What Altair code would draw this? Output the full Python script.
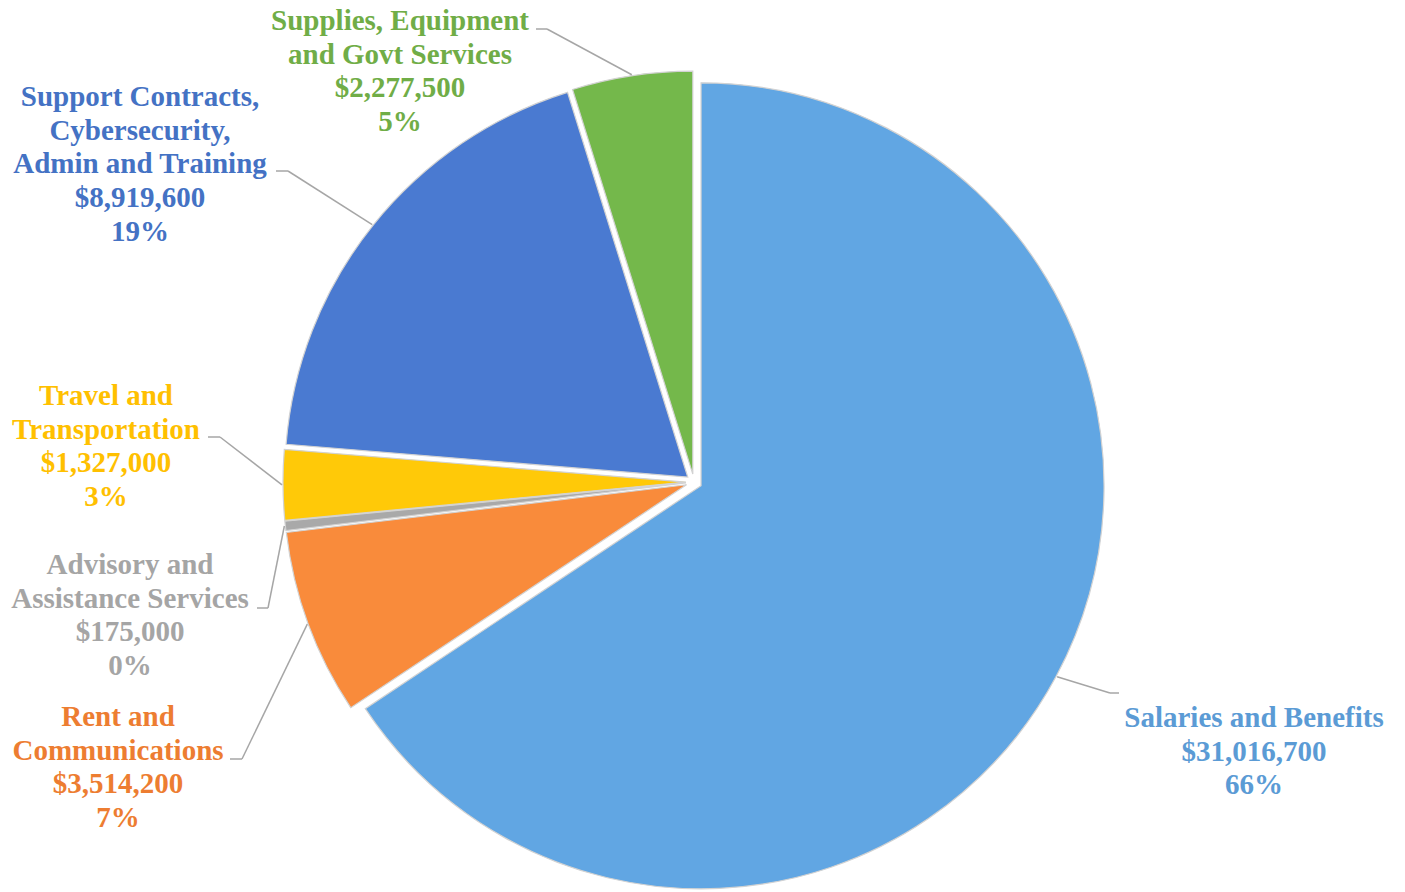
import altair as alt
import pandas as pd

# ---- data ----
categories = [
    "Salaries and Benefits",
    "Rent and Communications",
    "Advisory and Assistance Services",
    "Travel and Transportation",
    "Support Contracts, Cybersecurity, Admin and Training",
    "Supplies, Equipment and Govt Services",
]
label_names = [
    "Salaries and Benefits",
    "Rent and\nCommunications",
    "Advisory and\nAssistance Services",
    "Travel and\nTransportation",
    "Support Contracts,\nCybersecurity,\nAdmin and Training",
    "Supplies, Equipment\nand Govt Services",
]
amounts = [31016700, 3514200, 175000, 1327000, 8919600, 2277500]

# ---- styles ----
slice_colors = ["#61A6E3", "#F98B3B", "#A9A9A9", "#FFC908", "#4A7AD1", "#74B84B"]
text_colors = ["#5B9BD5", "#ED7D31", "#A5A5A5", "#FFC000", "#4472C4", "#70AD47"]

# ---- layout (page pixels) ----
W, H, M = 1389, 884, 8
CX, CY, R, EXPLODE = 694, 482, 403, 8
# label x centre, first-line y centre, leader elbow x, elbow y, leader tail x
label_layout = {
    "Salaries and Benefits": (1254, 718, 1110, 693, 1119),
    "Rent and Communications": (118, 717, 242, 759, 230),
    "Advisory and Assistance Services": (130, 565, 268, 608, 257),
    "Travel and Transportation": (106, 396, 220, 437, 208),
    "Support Contracts, Cybersecurity, Admin and Training": (140, 97, 288, 171, 276),
    "Supplies, Equipment and Govt Services": (400, 21, 547, 29, 536),
}

df = pd.DataFrame({
    "category": categories,
    "lname": label_names,
    "value": amounts,
    "order": list(range(len(categories))),
})
df["lx"] = [label_layout[c][0] for c in categories]
df["ly"] = [label_layout[c][1] for c in categories]
df["ex"] = [label_layout[c][2] for c in categories]
df["ey"] = [label_layout[c][3] for c in categories]
df["hx"] = [label_layout[c][4] for c in categories]

xs = alt.Scale(domain=[M, M + W], range=[0, W], nice=False, zero=False)
ys = alt.Scale(domain=[M, M + H], range=[0, H], nice=False, zero=False)

base = (
    alt.Chart(df)
    .transform_joinaggregate(total="sum(value)")
    .transform_window(cum="sum(value)", sort=[alt.SortField("order")], frame=[None, 0])
    .transform_calculate(pct="datum.value / datum.total")
    .transform_calculate(t1="2 * PI * datum.cum / datum.total")
    .transform_calculate(t0="2 * PI * (datum.cum - datum.value) / datum.total")
    .transform_calculate(mid="(datum.t0 + datum.t1) / 2")
    .transform_calculate(cx=f"{CX} + {EXPLODE} * sin(datum.mid)")
    .transform_calculate(cy=f"{CY} - {EXPLODE} * cos(datum.mid)")
    .transform_calculate(sx=f"datum.cx + {R + 1} * sin(datum.mid)")
    .transform_calculate(sy=f"datum.cy - {R + 1} * cos(datum.mid)")
    .transform_calculate(
        label="datum.lname + '\\n' + format(datum.value, '$,') + '\\n' + format(datum.pct, '.0%')"
    )
)

arcs = base.mark_arc(radius=R, stroke="#D2D2D2", strokeWidth=1.2).encode(
    x=alt.X("cx:Q", scale=xs, axis=None),
    y=alt.Y("cy:Q", scale=ys, axis=None),
    theta=alt.Theta("t0:Q", scale=None),
    theta2=alt.Theta2("t1:Q"),
    color=alt.Color("category:N", scale=alt.Scale(domain=categories, range=slice_colors), legend=None),
)

lead1 = base.mark_rule(color="#A6A6A6", strokeWidth=1.5).encode(
    x=alt.X("sx:Q", scale=xs, axis=None),
    y=alt.Y("sy:Q", scale=ys, axis=None),
    x2="ex:Q",
    y2="ey:Q",
)
lead2 = base.mark_rule(color="#A6A6A6", strokeWidth=1.5).encode(
    x=alt.X("ex:Q", scale=xs, axis=None),
    y=alt.Y("ey:Q", scale=ys, axis=None),
    x2="hx:Q",
    y2="ey:Q",
)

labels = base.mark_text(
    font="Liberation Serif",
    fontWeight="bold",
    fontSize=29,
    lineHeight=33.7,
    lineBreak="\n",
    align="center",
    baseline="middle",
).encode(
    x=alt.X("lx:Q", scale=xs, axis=None),
    y=alt.Y("ly:Q", scale=ys, axis=None),
    text="label:N",
    color=alt.Color("category:N", scale=alt.Scale(domain=categories, range=text_colors), legend=None),
)

chart = (
    alt.layer(arcs, lead1, lead2, labels)
    .resolve_scale(color="independent")
    .properties(width=W, height=H, autosize=alt.AutoSizeParams(type="none"), padding=0, background="white")
    .configure_view(strokeWidth=0)
)

chart.save("out.html", embed_options={"renderer": "svg", "actions": False})
